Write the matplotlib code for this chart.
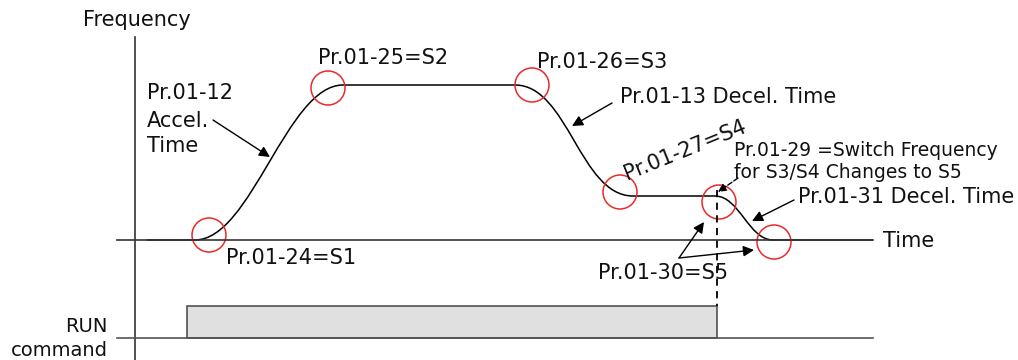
import matplotlib
matplotlib.use('Agg')
import matplotlib.pyplot as plt
from matplotlib.path import Path
from matplotlib.patches import PathPatch, Circle, Rectangle

# key points of the frequency profile (pixel space, y grows downward)
knot_x = [147, 195, 343, 515, 633, 715, 773, 873]
knot_y = [240, 240, 85, 85, 196, 196, 240, 240]
# which segments are S-curves (True) or flat lines (False)
seg_curve = [False, True, False, True, False, True, False]
seg_bend = [0, 0.38, 0, 0.45, 0, 0.42, 0]

# S-curve corner markers
circle_x = [209, 328, 532, 620, 719, 774]
circle_y = [235, 88, 85, 192, 202, 242]
circle_r = 17

# run command block
run_start, run_stop = 187, 717
run_low, run_high = 338, 306

labels = [
    ('Frequency', 83, 20, 15),
    ('Pr.01-12', 147, 93, 15),
    ('Accel.', 147, 121, 15),
    ('Time', 147, 146, 15),
    ('Pr.01-25=S2', 318, 58, 15),
    ('Pr.01-26=S3', 537, 62, 15),
    ('Pr.01-13 Decel. Time', 620, 97, 15),
    ('Pr.01-29 =Switch Frequency', 734, 150, 13.5),
    ('for S3/S4 Changes to S5', 734, 172, 13.5),
    ('Pr.01-31 Decel. Time', 798, 197, 15),
    ('Time', 883, 241, 15),
    ('Pr.01-24=S1', 226, 258, 15),
    ('Pr.01-30=S5', 598, 273, 15),
]

# (text-side start, arrow tip)
arrows = [
    ((213, 120), (270, 157)),
    ((612, 103), (572, 126)),
    ((794, 200), (752, 221)),
    ((679, 258), (704, 222)),
    ((679, 258), (754, 250)),
]

fig = plt.figure(figsize=(10.18, 3.6), dpi=100)
ax = fig.add_axes([0, 0, 1, 1])
ax.set_xlim(0, 1018)
ax.set_ylim(360, 0)
ax.axis('off')

axis_col = '#333333'
# axes
ax.plot([135, 135], [37, 360], color=axis_col, lw=1.2)
ax.plot([117, 873], [240, 240], color=axis_col, lw=1.2)
ax.plot([117, 873], [run_low, run_low], color='#555555', lw=1.2)

# frequency curve
verts = [(knot_x[0], knot_y[0])]
codes = [Path.MOVETO]
for i in range(len(knot_x) - 1):
    x0, y0, x1, y1 = knot_x[i], knot_y[i], knot_x[i + 1], knot_y[i + 1]
    if seg_curve[i]:
        a = seg_bend[i] * (x1 - x0)
        verts += [(x0 + a, y0), (x1 - a, y1), (x1, y1)]
        codes += [Path.CURVE4] * 3
    else:
        verts.append((x1, y1))
        codes.append(Path.LINETO)
ax.add_patch(PathPatch(Path(verts, codes), fill=False, color='black', lw=1.1))

for cx, cy in zip(circle_x, circle_y):
    ax.add_patch(Circle((cx, cy), circle_r, fill=False, ec='#e82a2a', lw=1.1))

# run block
ax.add_patch(Rectangle((run_start, run_high), run_stop - run_start, run_low - run_high,
                       fc='#e0e0e0', ec='#444444', lw=1.1))
ax.plot([run_stop, run_stop], [190, run_high], color='black', lw=1.3, ls=(0, (4, 3)))

for txt, x, y, fs in labels:
    ax.text(x, y, txt, fontsize=fs, ha='left', va='center', color='#111111')

ax.text(685, 150, 'Pr.01-27=S4', fontsize=15, rotation=22, ha='center', va='center',
        color='#111111')
ax.text(108, 327, 'RUN', fontsize=14, ha='right', va='center', color='#111111')
ax.text(108, 351, 'command', fontsize=14, ha='right', va='center', color='#111111')

for (sx, sy), (ex, ey) in arrows:
    ax.annotate('', xy=(ex, ey), xytext=(sx, sy),
                arrowprops=dict(arrowstyle='-|>', color='black', lw=1,
                                mutation_scale=16, shrinkA=0, shrinkB=0))
ax.annotate('', xy=(718, 192), xytext=(738, 178),
            arrowprops=dict(arrowstyle='-|>', color='black', lw=1, ls='--',
                            mutation_scale=12, shrinkA=0, shrinkB=0))

fig.savefig('out.png', dpi=100)
